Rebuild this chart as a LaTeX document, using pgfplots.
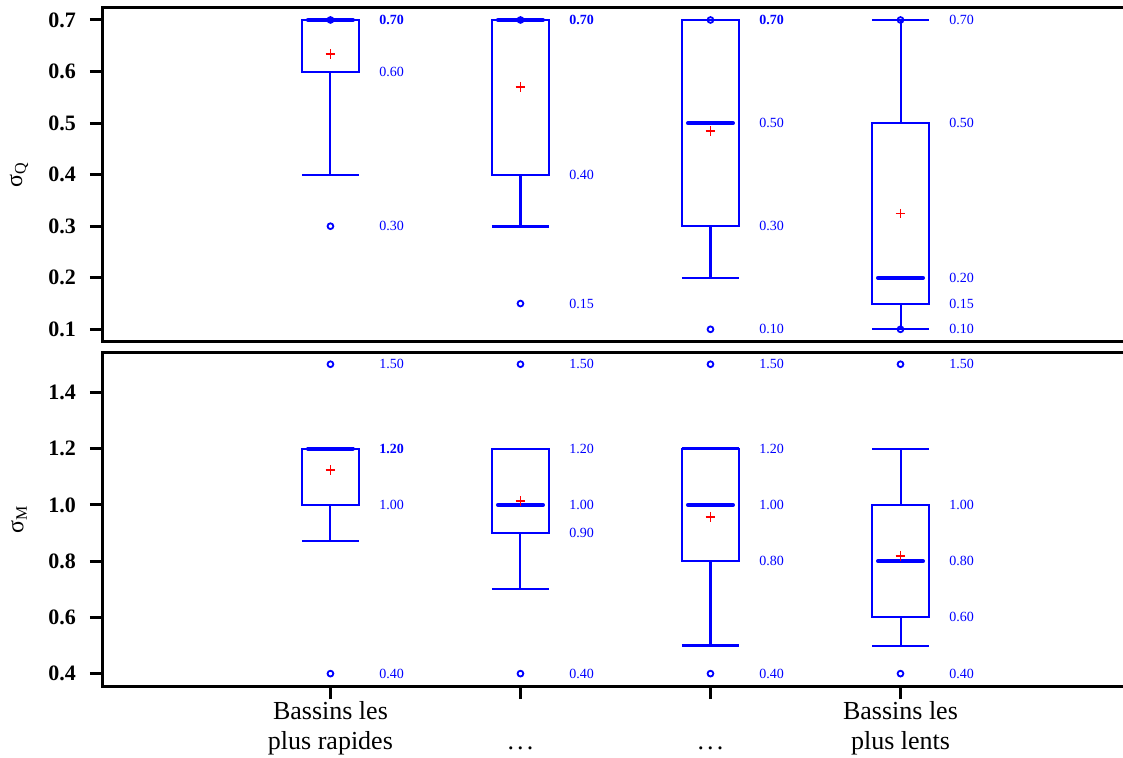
\documentclass[border=0pt]{standalone}
\usepackage{fontspec}
\setmainfont{Liberation Serif}
\usepackage{pgfplots}
\usepackage{pgfplotstable}
\pgfplotsset{compat=1.18}
\usepgfplotslibrary{statistics}

% ---------- data: top panel (sigma_Q) ----------
\pgfplotstableread{
x y
1 0.634
2 0.570
3 0.485
4 0.3245
}\meanQ
\pgfplotstableread{
x y
1 0.30
1 0.70
2 0.70
2 0.15
3 0.70
3 0.10
4 0.70
4 0.10
}\outQ
\pgfplotstableread{
x y label
1.255 0.70 0.70
2.255 0.70 0.70
3.255 0.70 0.70
}\lblQbold
\pgfplotstableread{
x y label
1.255 0.60 0.60
1.255 0.30 0.30
2.255 0.40 0.40
2.255 0.15 0.15
3.255 0.50 0.50
3.255 0.30 0.30
3.255 0.10 0.10
4.255 0.70 0.70
4.255 0.50 0.50
4.255 0.20 0.20
4.255 0.15 0.15
4.255 0.10 0.10
}\lblQ
% ---------- data: bottom panel (sigma_M) ----------
\pgfplotstableread{
x y
1 1.124
2 1.014
3 0.956
4 0.819
}\meanM
\pgfplotstableread{
x y
1 1.50
1 0.40
2 1.50
2 0.40
3 1.50
3 0.40
4 1.50
4 0.40
}\outM
\pgfplotstableread{
x y label
1.255 1.20 1.20
}\lblMbold
\pgfplotstableread{
x y label
1.255 1.50 1.50
1.255 1.00 1.00
1.255 0.40 0.40
2.255 1.50 1.50
2.255 1.20 1.20
2.255 1.00 1.00
2.255 0.90 0.90
2.255 0.40 0.40
3.255 1.50 1.50
3.255 1.20 1.20
3.255 1.00 1.00
3.255 0.80 0.80
3.255 0.40 0.40
4.255 1.50 1.50
4.255 1.00 1.00
4.255 0.80 0.80
4.255 0.60 0.60
4.255 0.40 0.40
}\lblM

\pgfplotsset{
  panel/.style={
    scale only axis, width=510pt,
    xmin=-0.197, xmax=5.171,
    axis x line=box, axis y line=left,
    axis line style={line width=1.5pt, black, -, line cap=rect},
    every outer x axis line/.append style={-},
    every outer y axis line/.append style={-},
    every inner x axis line/.append style={-},
    every inner y axis line/.append style={-},
    tick style={line width=1.5pt, black},
    major tick length=6.5pt,
    tick align=outside,
    ytick pos=left, xtick pos=left,
    yticklabel style={font=\fontsize{11}{13}\selectfont\bfseries, xshift=-3.5pt,
      /pgf/number format/.cd, fixed, fixed zerofill, precision=1, assume math mode=true},
    every axis y label/.style={at={(axis description cs:0,0.5)}, xshift=-42pt,
      rotate=90, anchor=center, font=\fontsize{12}{14}\selectfont},
    clip=false,
  },
  lbl/.style={only marks, mark=none, nodes near coords, point meta=explicit symbolic,
    every node near coord/.append style={anchor=west, inner sep=0pt,
      font=\fontsize{7}{8}\selectfont#1, text=blue}},
  lbl/.default={},
  bx/.style={blue, line width=1pt, solid, mark=none},
  meanmk/.style={only marks, mark=+, red, mark size=2.4pt, line width=0.85pt},
  outmk/.style={only marks, mark=o, blue, mark size=1.45pt, line width=0.9pt},
  boxplot/bxo/.style={draw direction=y, box extend=0.3, whisker extend=0.3,
    every median/.style={line width=2pt, line cap=round, shorten <=3pt, shorten >=3pt}},
}
\newcommand{\dd}{.\kern0.12em.\kern0.12em.}

\begin{document}
\begin{tikzpicture}
% ================= top panel =================
\begin{axis}[panel, at={(0,0)}, anchor=north west, height=167.2pt,
  ymin=0.076, ymax=0.7246,
  ytick={0.1,0.2,0.3,0.4,0.5,0.6,0.7},
  xtick=\empty,
  ylabel={σ\textsubscript{Q}}]
\addplot[bx, boxplot prepared={lower whisker=0.40, lower quartile=0.60, median=0.70,
  upper quartile=0.70, upper whisker=0.70, draw position=1, bxo}] coordinates {};
\addplot[bx, boxplot prepared={lower whisker=0.30, lower quartile=0.40, median=0.70,
  upper quartile=0.70, upper whisker=0.70, draw position=2, bxo,
  every whisker/.style={line width=1.3pt}}] coordinates {};
\addplot[bx, boxplot prepared={lower whisker=0.20, lower quartile=0.30, median=0.50,
  upper quartile=0.70, upper whisker=0.70, draw position=3, bxo,
  every whisker/.style={line width=1.2pt}}] coordinates {};
\addplot[bx, boxplot prepared={lower whisker=0.10, lower quartile=0.15, median=0.20,
  upper quartile=0.50, upper whisker=0.70, draw position=4, bxo}] coordinates {};
\addplot[outmk] table {\outQ};
\addplot[meanmk] table {\meanQ};
\addplot[lbl] table[meta=label] {\lblQ};
\addplot[lbl=\bfseries] table[meta=label] {\lblQbold};
\end{axis}
% ================= bottom panel =================
\begin{axis}[panel, at={(0,-172.7pt)}, anchor=north west, height=166.65pt,
  ymin=0.356, ymax=1.541,
  ytick={0.4,0.6,0.8,1.0,1.2,1.4},
  xtick={1,2,3,4},
  xticklabels={{\strut Bassins les\\plus rapides},{\strut\\\dd},{\strut\\\dd},{\strut Bassins les\\plus lents}},
  xticklabel style={align=center, font=\fontsize{13}{15}\selectfont, anchor=north, yshift=4pt},
  ylabel={σ\textsubscript{M}}]
\addplot[bx, boxplot prepared={lower whisker=0.87, lower quartile=1.00, median=1.20,
  upper quartile=1.20, upper whisker=1.20, draw position=1, bxo}] coordinates {};
\addplot[bx, boxplot prepared={lower whisker=0.70, lower quartile=0.90, median=1.00,
  upper quartile=1.20, upper whisker=1.20, draw position=2, bxo}] coordinates {};
\addplot[bx, boxplot prepared={lower whisker=0.50, lower quartile=0.80, median=1.00,
  upper quartile=1.20, upper whisker=1.20, draw position=3, bxo,
  every whisker/.style={line width=1.2pt}}] coordinates {};
\addplot[bx, boxplot prepared={lower whisker=0.50, lower quartile=0.60, median=0.80,
  upper quartile=1.00, upper whisker=1.20, draw position=4, bxo}] coordinates {};
\addplot[outmk] table {\outM};
\addplot[meanmk] table {\meanM};
\addplot[lbl] table[meta=label] {\lblM};
\addplot[lbl=\bfseries] table[meta=label] {\lblMbold};
\end{axis}
\pgfresetboundingbox
\useasboundingbox (-51.5pt,3.65pt) rectangle (510pt,-375.35pt);
\end{tikzpicture}
\end{document}
